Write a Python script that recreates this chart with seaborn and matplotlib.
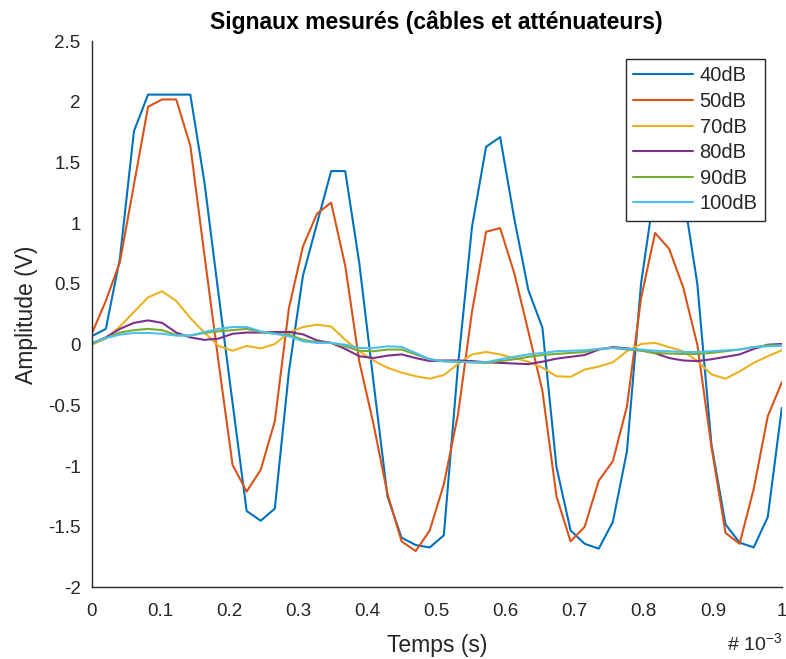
import numpy as np
import pandas as pd
import matplotlib
matplotlib.use("Agg")
import matplotlib.pyplot as plt
import seaborn as sns

# 50 samples over 1 ms
n_samples = 50
t_s = np.arange(n_samples) / (n_samples - 1) * 1e-3

labels = ["40dB", "50dB", "70dB", "80dB", "90dB", "100dB"]
colors = ["#0072BD", "#D95319", "#EDB120", "#7E2F8E", "#77AC30", "#4DBEEE"]

sig_40db = [0.07, 0.13, 0.71, 1.76, 2.06, 2.06, 2.06, 2.06, 1.34, 0.42,
            -0.48, -1.37, -1.45, -1.35, -0.22, 0.57, 1.00, 1.43, 1.43, 0.67,
            -0.30, -1.25, -1.59, -1.65, -1.67, -1.57, -0.18, 0.97, 1.63, 1.71,
            1.04, 0.45, 0.14, -1.01, -1.53, -1.64, -1.68, -1.46, -0.88, 0.50,
            1.30, 1.70, 1.25, 0.50, -0.82, -1.48, -1.63, -1.67, -1.42, -0.52]
sig_50db = [0.09, 0.36, 0.68, 1.32, 1.96, 2.02, 2.02, 1.64, 0.74, -0.14,
            -0.99, -1.21, -1.03, -0.63, 0.30, 0.81, 1.08, 1.17, 0.65, -0.14,
            -0.65, -1.23, -1.62, -1.70, -1.53, -1.15, -0.58, 0.27, 0.93, 0.96,
            0.59, 0.11, -0.38, -1.25, -1.62, -1.50, -1.12, -0.96, -0.51, 0.38,
            0.92, 0.79, 0.47, 0.00, -0.84, -1.55, -1.64, -1.19, -0.59, -0.31]
sig_70db = [0.00, 0.05, 0.15, 0.27, 0.39, 0.44, 0.36, 0.22, 0.10, -0.01,
            -0.05, -0.01, -0.03, 0.005, 0.10, 0.145, 0.165, 0.15, 0.04, -0.055,
            -0.13, -0.19, -0.23, -0.26, -0.28, -0.25, -0.16, -0.08, -0.06, -0.08,
            -0.11, -0.14, -0.19, -0.26, -0.265, -0.205, -0.18, -0.145, -0.054, 0.006,
            0.015, -0.02, -0.054, -0.135, -0.245, -0.28, -0.22, -0.15, -0.095, -0.046]
sig_80db = [0.01, 0.06, 0.13, 0.18, 0.20, 0.18, 0.10, 0.06, 0.04, 0.05,
            0.09, 0.10, 0.10, 0.105, 0.105, 0.085, 0.035, 0.015, -0.035, -0.095,
            -0.11, -0.09, -0.08, -0.11, -0.135, -0.13, -0.13, -0.135, -0.145, -0.15,
            -0.155, -0.16, -0.14, -0.115, -0.10, -0.085, -0.04, -0.02, -0.03, -0.045,
            -0.07, -0.11, -0.13, -0.135, -0.12, -0.10, -0.08, -0.035, 0.0, 0.006]
sig_90db = [0.01, 0.055, 0.10, 0.12, 0.13, 0.12, 0.08, 0.075, 0.097, 0.11,
            0.12, 0.13, 0.105, 0.09, 0.083, 0.04, 0.02, 0.015, -0.013, -0.05,
            -0.054, -0.04, -0.04, -0.08, -0.12, -0.137, -0.14, -0.145, -0.15, -0.135,
            -0.12, -0.10, -0.085, -0.076, -0.068, -0.06, -0.035, -0.027, -0.04, -0.05,
            -0.068, -0.073, -0.076, -0.076, -0.068, -0.054, -0.04, -0.02, -0.005, -0.005]
sig_100db = [0.014, 0.055, 0.083, 0.097, 0.097, 0.09, 0.075, 0.075, 0.105, 0.13,
             0.146, 0.146, 0.11, 0.09, 0.07, 0.028, 0.015, 0.015, 0.0, -0.027,
             -0.027, -0.013, -0.018, -0.068, -0.12, -0.137, -0.14, -0.145, -0.145, -0.12,
             -0.10, -0.08, -0.068, -0.054, -0.05, -0.046, -0.035, -0.027, -0.035, -0.04,
             -0.05, -0.054, -0.06, -0.06, -0.054, -0.046, -0.04, -0.02, -0.013, -0.008]

series = [sig_40db, sig_50db, sig_70db, sig_80db, sig_90db, sig_100db]

x_ticks = np.arange(0, 11) * 1e-4
x_tick_labels = ["0", "0.1", "0.2", "0.3", "0.4", "0.5", "0.6", "0.7", "0.8", "0.9", "1"]
y_ticks = [-2, -1.5, -1, -0.5, 0, 0.5, 1, 1.5, 2, 2.5]
y_tick_labels = ["-2", "-1.5", "-1", "-0.5", "0", "0.5", "1", "1.5", "2", "2.5"]

df = pd.concat(
    [pd.DataFrame({"t": t_s, "amp": vals, "serie": lab}) for lab, vals in zip(labels, series)],
    ignore_index=True,
)

sns.set_theme(style="white")
plt.rcParams["font.family"] = ["Liberation Sans", "DejaVu Sans"]
plt.rcParams["axes.unicode_minus"] = False
plt.rcParams["mathtext.default"] = "regular"

axis_color = "#262626"

fig = plt.figure(figsize=(7.86, 6.59), dpi=100)
ax = fig.add_axes([0.1167, 0.1085, 0.878, 0.829])

sns.lineplot(
    data=df, x="t", y="amp", hue="serie", hue_order=labels, palette=colors,
    linewidth=1.5, sort=False, estimator=None, ax=ax,
)

ax.set_xlim(0, 1e-3)
ax.set_ylim(-2, 2.5)
ax.set_xticks(x_ticks)
ax.set_xticklabels(x_tick_labels)
ax.set_yticks(y_ticks)
ax.set_yticklabels(y_tick_labels)

for side in ["top", "right"]:
    ax.spines[side].set_visible(False)
for side in ["left", "bottom"]:
    ax.spines[side].set_color(axis_color)
    ax.spines[side].set_linewidth(1.0)
ax.tick_params(direction="in", length=6, width=1.0, color=axis_color,
               labelcolor=axis_color, labelsize=13.5)
ax.tick_params(axis="x", pad=11)
ax.tick_params(axis="y", pad=8)

ax.set_xlabel("Temps (s)", fontsize=16.5, color=axis_color, labelpad=10)
ax.set_ylabel("Amplitude (V)", fontsize=16.5, color=axis_color, labelpad=7)
ax.set_title("Signaux mesurés (câbles et atténuateurs)", fontsize=16.5,
             fontweight="bold", color="black", pad=9)

handles, _ = ax.get_legend_handles_labels()
leg = ax.legend(
    handles, labels, loc="upper right", bbox_to_anchor=(0.975, 0.967),
    borderaxespad=0, frameon=True, fancybox=False, edgecolor=axis_color,
    framealpha=1.0, fontsize=14.5, handlelength=3.0, handletextpad=0.3,
    labelspacing=0.33, borderpad=0.35,
)
leg.get_frame().set_linewidth(1.0)
leg.set_zorder(10)

fig.text(0.995, 0.008, "# 10$^{-3}$", ha="right", va="bottom", fontsize=14,
         color=axis_color)

fig.savefig("out.png", dpi=100, facecolor="white")
